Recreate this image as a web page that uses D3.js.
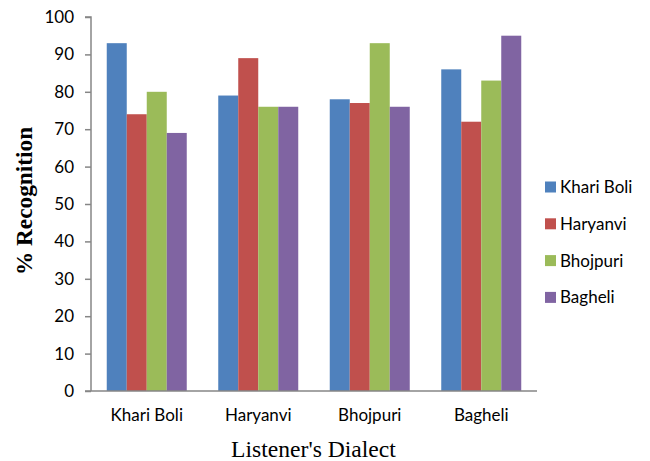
<!DOCTYPE html>
<html>
<head>
<meta charset="utf-8">
<script src="https://cdn.jsdelivr.net/npm/d3@7"></script>
<style>
  html, body { margin: 0; padding: 0; background: #fff; }
  svg { display: block; }
</style>
</head>
<body>
<svg id="chart" width="650" height="461"></svg>
<script>
// Listener dialects on the x axis, speaker dialect series as grouped bars
const categories = ["Khari Boli", "Haryanvi", "Bhojpuri", "Bagheli"];
const seriesNames = ["Khari Boli", "Haryanvi", "Bhojpuri", "Bagheli"];
const khariBoli = [93, 79, 78, 86];
const haryanvi = [74, 89, 77, 72];
const bhojpuri = [80, 76, 93, 83];
const bagheli = [69, 76, 76, 95];
const yTicks = [0, 10, 20, 30, 40, 50, 60, 70, 80, 90, 100];
const colors = ["#4F81BD", "#C0504D", "#9BBB59", "#8064A2"];

const seriesValues = [khariBoli, haryanvi, bhojpuri, bagheli];

const svg = d3.select("#chart");
const margin = { left: 91, right: 113, top: 17, bottom: 70 };
const W = 650, H = 461;

const x = d3.scaleBand()
  .domain(categories)
  .range([margin.left, W - margin.right])
  .paddingInner(0.2825)
  .paddingOuter(0.14125);

const xs = d3.scaleBand()
  .domain(seriesNames)
  .range([0, x.bandwidth()]);

const y = d3.scaleLinear()
  .domain([0, 100])
  .range([H - margin.bottom, margin.top]);

const axisColor = "#868686";
const tickFont = "Lato, 'Open Sans', sans-serif";
const titleFont = "'Liberation Serif', 'Times New Roman', serif";

// bars
const groups = svg.append("g")
  .selectAll("g")
  .data(categories)
  .join("g")
  .attr("transform", d => `translate(${x(d)},0)`);

groups.selectAll("rect")
  .data((c, ci) => seriesNames.map((s, si) => ({ s, si, v: seriesValues[si][ci] })))
  .join("rect")
  .attr("x", d => xs(d.s))
  .attr("width", xs.bandwidth())
  .attr("y", d => y(d.v))
  .attr("height", d => y(0) - y(d.v))
  .attr("fill", d => colors[d.si]);

// y axis
const yAxis = svg.append("g")
  .attr("transform", `translate(${margin.left},0)`)
  .call(d3.axisLeft(y).tickValues(yTicks).tickSize(6).tickPadding(11));
yAxis.select(".domain").attr("stroke", axisColor).attr("stroke-width", 1.5)
  .attr("d", `M-6,${y(100)}H0V${y(0)}`);
yAxis.selectAll(".tick line").attr("stroke", axisColor).attr("stroke-width", 1.5);
yAxis.selectAll(".tick text")
  .attr("fill", "#000")
  .style("font-family", tickFont)
  .style("font-size", "17px");

// x axis
const xAxis = svg.append("g")
  .attr("transform", `translate(0,${y(0)})`)
  .call(d3.axisBottom(x).tickSize(0).tickPadding(18));
xAxis.select(".domain").attr("stroke", axisColor).attr("stroke-width", 1.5)
  .attr("d", `M${margin.left - 6},0H${W - margin.right}`);
xAxis.selectAll(".tick text")
  .attr("fill", "#000")
  .style("font-family", tickFont)
  .style("font-size", "17px");

// axis titles
svg.append("text")
  .attr("x", 313.5)
  .attr("y", 457)
  .attr("text-anchor", "middle")
  .style("font-family", titleFont)
  .style("font-size", "23.6px")
  .text("Listener's Dialect");

svg.append("text")
  .attr("transform", `translate(32,201) rotate(-90)`)
  .attr("text-anchor", "middle")
  .style("font-family", titleFont)
  .style("font-size", "23.3px")
  .style("font-weight", "bold")
  .text("% Recognition");

// legend
const legend = svg.append("g")
  .selectAll("g")
  .data(seriesNames)
  .join("g")
  .attr("transform", (d, i) => `translate(545,${187 + i * 36.8})`);
legend.append("rect")
  .attr("x", 0).attr("y", -5.5)
  .attr("width", 11).attr("height", 11)
  .attr("fill", (d, i) => colors[i]);
legend.append("text")
  .attr("x", 15)
  .attr("y", 0)
  .attr("dy", "0.35em")
  .style("font-family", tickFont)
  .style("font-size", "17px")
  .text(d => d);
</script>
</body>
</html>
